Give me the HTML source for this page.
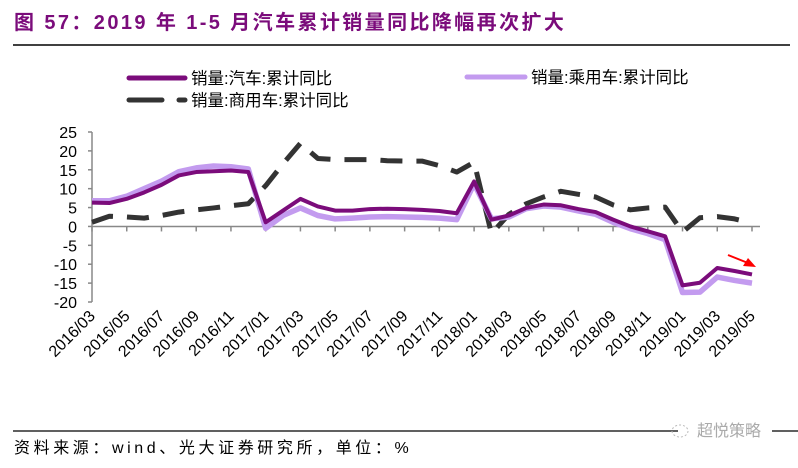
<!DOCTYPE html>
<html><head><meta charset="utf-8"><style>
body{margin:0;background:#fff;width:798px;height:463px;overflow:hidden}
svg text{font-family:"Liberation Sans","Noto Sans CJK SC",sans-serif}
</style></head><body>
<svg width="798" height="463" viewBox="0 0 798 463">
<text x="14" y="29" fill="#7B0C7B" font-size="20" font-weight="bold" letter-spacing="2.4">图 57：2019 年 1-5 月汽车累计销量同比降幅再次扩大</text>
<line x1="13" y1="45" x2="790" y2="45" stroke="#000" stroke-width="1.5"/>
<g>
<g><line x1="129" y1="78" x2="185" y2="78" stroke="#7B0C7B" stroke-width="5" stroke-linecap="round"/><text x="191" y="84" font-size="16.5" fill="#000">销量:汽车:累计同比</text></g>
<g><line x1="467" y1="77" x2="525" y2="77" stroke="#C39BEF" stroke-width="5" stroke-linecap="round"/><text x="531" y="83" font-size="16.5" fill="#000">销量:乘用车:累计同比</text></g>
<g><line x1="129" y1="100" x2="162" y2="100" stroke="#333" stroke-width="5" stroke-linecap="round"/><line x1="179" y1="100" x2="185" y2="100" stroke="#333" stroke-width="5" stroke-linecap="round"/><text x="191" y="106" font-size="16.5" fill="#000">销量:商用车:累计同比</text></g>
</g>
<g id="axes"></g>
<g id="series"></g>
<line x1="728" y1="255" x2="748" y2="263" stroke="#f00" stroke-width="2"/>
<polygon points="756,267 743,266 748,258" fill="#f00"/>
<line x1="13" y1="431" x2="678" y2="431" stroke="#000" stroke-width="1.2"/>
<line x1="772" y1="431" x2="798" y2="431" stroke="#000" stroke-width="1.2"/>
<text x="14" y="453" font-size="16" fill="#000" letter-spacing="3.6">资料来源：wind、光大证券研究所，单位：%</text>
<text x="697" y="436" font-size="16" fill="#aaa">超悦策略</text>
<ellipse cx="680" cy="431" rx="8" ry="6" fill="none" stroke="#bbb" stroke-dasharray="2,2"/>
</svg>
<script>
const months=[];for(let y=2016;y<=2019;y++)for(let m=1;m<=12;m++){if((y===2016&&m<3)||(y===2019&&m>5))continue;months.push(y+'/'+String(m).padStart(2,'0'));}
const autoVals=[6.3,6.2,7.3,9,11,13.5,14.4,14.6,14.8,14.4,1.1,4.2,7.3,5.3,4.2,4.2,4.6,4.7,4.6,4.4,4.1,3.5,11.9,1.8,2.9,4.9,5.8,5.6,4.6,3.8,1.8,0,-1.3,-2.6,-15.6,-14.9,-11,-11.8,-12.7];
const passVals=[6.8,6.8,8,10,12,14.5,15.5,16,15.8,15.2,-0.5,2.9,4.9,2.9,2,2.2,2.5,2.6,2.5,2.4,2.2,1.8,11.3,2,2.5,4.7,5.4,5.1,4.1,3.2,1.1,-0.6,-1.9,-3.5,-17.5,-17.4,-13.4,-14.3,-15];
const commVals=[1.1,2.7,2.5,2.2,2.9,3.8,4.4,4.9,5.5,6,10.8,16.6,22,18,17.7,17.7,17.7,17.4,17.3,17.3,16.1,14.4,17,-1.9,3.2,6,7.8,9.3,8.5,7.8,5.7,4.4,4.9,5.1,-1.5,2.3,2.6,2,0.9];
const yTicks=[25,20,15,10,5,0,-5,-10,-15,-20];
const NS='http://www.w3.org/2000/svg';
const X0=92,X1=752,Y25=132,Ym20=302;
const xs=i=>X0+(X1-X0)*i/(months.length-1);
const ys=v=>Ym20-(v+20)*(Ym20-Y25)/45;
function mk(t,a,p){const e=document.createElementNS(NS,t);for(const k in a)e.setAttribute(k,a[k]);p.appendChild(e);return e;}
const ax=document.getElementById('axes'),se=document.getElementById('series');
const yAxis=mk('line',{x1:X0,y1:Y25,x2:X0,y2:Ym20,stroke:'#888','stroke-width':1.5},ax);


yTicks.forEach(v=>{
 mk('line',{x1:X0-4,y1:ys(v),x2:X0,y2:ys(v),stroke:'#888','stroke-width':1.5},ax);
 const t=mk('text',{x:X0-15,y:ys(v)+6,'font-size':16,'text-anchor':'end',fill:'#000'},ax);t.textContent=v;
 
 
});
const xAxis=mk('line',{x1:X0,y1:ys(0),x2:X1+8,y2:ys(0),stroke:'#888','stroke-width':1.5},ax);


months.forEach((m,i)=>{if(i%2)return;
 mk('line',{x1:xs(i),y1:ys(0),x2:xs(i),y2:ys(0)+5,stroke:'#888','stroke-width':1.5},ax);
 const t=mk('text',{x:0,y:0,'font-size':16,'text-anchor':'end',fill:'#000',transform:`translate(${xs(i)+4},${317}) rotate(-45)`},ax);t.textContent=m;
 
 
});
function line(vals,color,w,dash,name){
 const p=mk('polyline',{points:vals.map((v,i)=>xs(i)+','+ys(v)).join(' '),fill:'none',stroke:color,'stroke-width':w,'stroke-linejoin':'round','stroke-dasharray':dash||'none'},se);
 
 
}
line(commVals,'#333',5,'22,14','series-commercial');
line(passVals,'#C39BEF',5.5,null,'series-passenger');
line(autoVals,'#7B0C7B',4,null,'series-auto');
</script>
</body></html>
